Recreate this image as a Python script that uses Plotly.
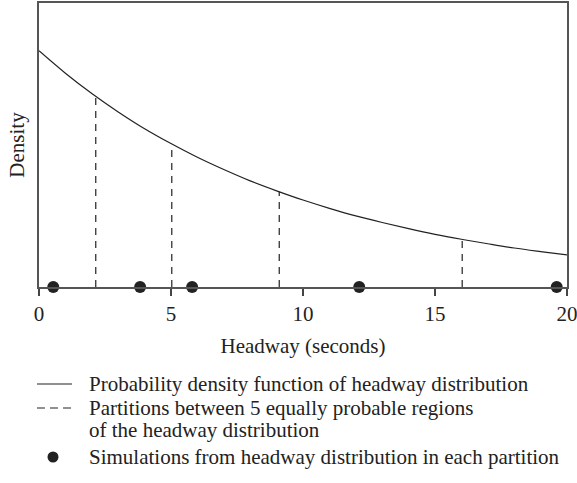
import plotly.graph_objects as go
import numpy as np

# Density curve (headway seconds -> density)
curve_x = list(range(0, 21))
curve_y = [0.1000, 0.0905, 0.0819, 0.0741, 0.0670, 0.0607, 0.0549, 0.0497, 0.0449, 0.0407,
           0.0368, 0.0333, 0.0301, 0.0273, 0.0247, 0.0223, 0.0202, 0.0183, 0.0165, 0.0150, 0.0136]

# Partitions between 5 equally probable regions
partitions = [2.15, 5.03, 9.10, 16.03]

# Simulated headways (one per partition)
sims = [0.54, 3.83, 5.80, 12.13, 19.61]

x_ticks = [0, 5, 10, 15, 20]

legend_labels = [
    "Probability density function of headway distribution",
    "Partitions between 5 equally probable regions",
    "of the headway distribution",
    "Simulations from headway distribution in each partition",
]

FONT = "Liberation Serif"
FS = 21
INK = "#222222"

W, H = 577, 483
ML, MR, MT, MB = 39, 10, 3, 196
PW, PH = W - ML - MR, H - MT - MB


def px(xp):
    return (xp - ML) / PW


def py(yp):
    return (H - MB - yp) / PH


part_y = np.interp(partitions, curve_x, curve_y)
dx, dy = [], []
for p, h in zip(partitions, part_y):
    dx += [p, p, None]
    dy += [0, h, None]

fig = go.Figure()
fig.add_trace(go.Scatter(
    x=curve_x, y=curve_y, mode="lines", line=dict(color=INK, width=1.2, shape="spline"),
    name=legend_labels[0]))
fig.add_trace(go.Scatter(
    x=dx, y=dy, mode="lines", line=dict(color=INK, width=1.2, dash="7px,6px"),
    name=legend_labels[1]))
fig.add_trace(go.Scatter(
    x=sims, y=[0] * len(sims), mode="markers", marker=dict(color=INK, size=12),
    cliponaxis=False, name=legend_labels[3]))

# Manual legend (below the plot)
rows_y = [384, 408, 430, 457]
text_x = 87
annotations = []
for lab, yy in zip(legend_labels, rows_y):
    annotations.append(dict(text=lab, x=px(text_x), y=py(yy), xref="paper", yref="paper",
                            xanchor="left", yanchor="middle", showarrow=False,
                            font=dict(family=FONT, size=FS, color=INK)))
shapes = [
    dict(type="line", xref="paper", yref="paper", x0=px(37), x1=px(72), y0=py(384), y1=py(384),
         line=dict(color=INK, width=1.2)),
    dict(type="line", xref="paper", yref="paper", x0=px(37), x1=px(72), y0=py(408), y1=py(408),
         line=dict(color=INK, width=1.2, dash="8px,5px")),
    dict(type="circle", xref="paper", yref="paper", x0=px(47.5), x1=px(58.5),
         y0=py(462.5), y1=py(451.5), fillcolor=INK, line=dict(color=INK, width=0)),
]

fig.update_layout(
    width=W, height=H,
    margin=dict(l=ML, r=MR, t=MT, b=MB, autoexpand=False),
    paper_bgcolor="white", plot_bgcolor="white",
    font=dict(family=FONT, size=FS, color=INK),
    showlegend=False,
    annotations=annotations,
    shapes=shapes,
    xaxis=dict(range=[0, 20], tickvals=x_ticks, ticks="outside", ticklen=7,
               tickcolor="#444", tickwidth=1.5, ticklabeloverflow="allow", automargin=False,
               showgrid=False, zeroline=False, showline=True, linecolor="#555", linewidth=2,
               mirror=True,
               title=dict(text="Headway (seconds)", font=dict(size=FS), standoff=13),
               tickfont=dict(size=FS)),
    yaxis=dict(range=[0, 0.1202], showticklabels=False, ticks="", automargin=False,
               showgrid=False, zeroline=False, showline=True, linecolor="#555", linewidth=1.5,
               mirror=True,
               title=dict(text="Density", font=dict(size=FS), standoff=7)),
)

fig.write_html("out.html")
